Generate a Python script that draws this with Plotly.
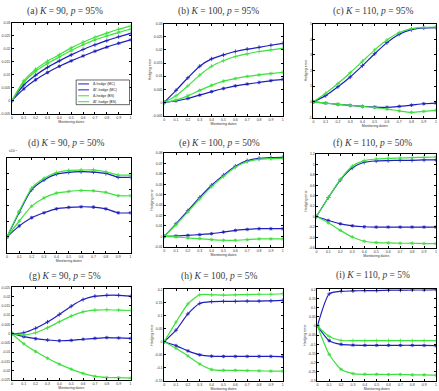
import plotly.graph_objects as go

W, H = 439, 391

# ---------------- data ----------------
x_dates = [0, 0.1, 0.2, 0.3, 0.4, 0.5, 0.6, 0.7, 0.8, 0.9, 1.0]
x_ticks = [0, 0.1, 0.2, 0.3, 0.4, 0.5, 0.6, 0.7, 0.8, 0.9, 1.0]
x_ticktext = ["0", "0.1", "0.2", "0.3", "0.4", "0.5", "0.6", "0.7", "0.8", "0.9", "1"]

series_names = ["Δ-hedge (MC)", "ΔΓ-hedge (MC)", "Δ-hedge (BS)", "ΔΓ-hedge (BS)"]

# (a) K=90, p=95%
a_blue1 = [0, 0.0060, 0.0098, 0.0128, 0.0153, 0.0176, 0.0197, 0.0215, 0.0231, 0.0246, 0.0259]
a_blue2 = [0, 0.0045, 0.0080, 0.0108, 0.0132, 0.0153, 0.0172, 0.0190, 0.0206, 0.0221, 0.0234]
a_green1 = [0, 0.0076, 0.0121, 0.0152, 0.0177, 0.0203, 0.0225, 0.0244, 0.0260, 0.0275, 0.0287]
a_green2 = [0, 0.0070, 0.0113, 0.0143, 0.0168, 0.0193, 0.0215, 0.0234, 0.0249, 0.0263, 0.0275]
# (b) K=100, p=95%
b_blue1 = [0, 0.0046, 0.0094, 0.0138, 0.0166, 0.0181, 0.0194, 0.0203, 0.0210, 0.0218, 0.0225]
b_blue2 = [0, 0.0006, 0.0015, 0.0028, 0.0041, 0.0053, 0.0063, 0.0070, 0.0076, 0.0083, 0.0088]
b_green1 = [0, 0.0025, 0.0063, 0.0104, 0.0138, 0.0159, 0.0175, 0.0185, 0.0194, 0.0200, 0.0206]
b_green2 = [0, 0.0009, 0.0025, 0.0046, 0.0065, 0.0081, 0.0091, 0.0099, 0.0105, 0.0110, 0.0115]
# (c) K=110, p=95%
c_blue1 = [0, 0.40, 0.965, 1.59, 2.32, 3.08, 3.79, 4.33, 4.62, 4.73, 4.75]
c_blue2 = [0, -0.08, -0.16, -0.23, -0.29, -0.33, -0.35, -0.29, -0.21, -0.12, -0.08]
c_green1 = [0, 0.547, 1.174, 1.864, 2.596, 3.328, 3.955, 4.436, 4.686, 4.77, 4.79]
c_green2 = [0, -0.08, -0.14, -0.23, -0.29, -0.37, -0.46, -0.58, -0.67, -0.61, -0.54]
# (d) K=90, p=50%  (x10^-3)
d_blue1 = [0, 1.57, 2.99, 3.61, 3.98, 4.09, 4.13, 4.11, 4.02, 3.78, 3.78]
d_blue2 = [0, 0.70, 1.22, 1.53, 1.78, 1.87, 1.91, 1.89, 1.78, 1.53, 1.53]
d_green1 = [0, 1.64, 3.09, 3.71, 4.07, 4.21, 4.23, 4.25, 4.13, 3.92, 3.92]
d_green2 = [0, 1.01, 1.95, 2.47, 2.78, 2.88, 2.94, 2.92, 2.82, 2.61, 2.61]
# (e) K=100, p=50%
e_blue1 = [0, 0.0121, 0.0247, 0.0374, 0.0491, 0.0588, 0.0674, 0.0727, 0.0749, 0.0756, 0.0759]
e_blue2 = [0, 0.0004, 0.0010, 0.0017, 0.0026, 0.0042, 0.0058, 0.0067, 0.0074, 0.0074, 0.0074]
e_green1 = [0, 0.0112, 0.0235, 0.0361, 0.0478, 0.0576, 0.0664, 0.0718, 0.0740, 0.0746, 0.0749]
e_green2 = [0, -0.0005, -0.0015, -0.0021, -0.0031, -0.0037, -0.0037, -0.0031, -0.0024, -0.0024, -0.0024]
# (f) K=110, p=50%
f_blue1 = [0, 0.366, 0.701, 0.935, 1.042, 1.067, 1.074, 1.080, 1.080, 1.086, 1.086]
f_blue2 = [0, -0.076, -0.139, -0.177, -0.196, -0.202, -0.202, -0.202, -0.202, -0.202, -0.202]
f_green1 = [0, 0.366, 0.714, 0.966, 1.074, 1.105, 1.118, 1.124, 1.131, 1.137, 1.143]
f_green2 = [0, -0.120, -0.265, -0.392, -0.474, -0.499, -0.505, -0.512, -0.512, -0.518, -0.518]
# (g) K=90, p=5%
g_blue1 = [0, 0.0005, 0.0029, 0.0063, 0.0104, 0.0148, 0.0184, 0.0202, 0.0207, 0.0207, 0.0202]
g_blue2 = [0, -0.0016, -0.0027, -0.0034, -0.0038, -0.0036, -0.0030, -0.0025, -0.0021, -0.0023, -0.0025]
g_green1 = [0, -0.0007, 0.0005, 0.0032, 0.0064, 0.0095, 0.0118, 0.0127, 0.0129, 0.0127, 0.0125]
g_green2 = [0, -0.0054, -0.0096, -0.0132, -0.0164, -0.0191, -0.0214, -0.0230, -0.0236, -0.0237, -0.0239]
# (h) K=100, p=5%
h_blue1 = [0, 0.044, 0.106, 0.146, 0.153, 0.154, 0.154, 0.155, 0.155, 0.156, 0.158]
h_blue2 = [0, -0.015, -0.035, -0.050, -0.055, -0.056, -0.056, -0.056, -0.056, -0.056, -0.057]
h_green1 = [0, 0.075, 0.144, 0.179, 0.179, 0.178, 0.179, 0.180, 0.181, 0.181, 0.183]
h_green2 = [0, -0.025, -0.054, -0.085, -0.106, -0.109, -0.109, -0.110, -0.111, -0.112, -0.112]
# (i) K=110, p=5%
i_blue1 = [0, 0.175, 0.189, 0.191, 0.193, 0.193, 0.195, 0.195, 0.196, 0.196, 0.198]
i_blue2 = [0, -0.080, -0.100, -0.104, -0.105, -0.105, -0.105, -0.105, -0.105, -0.106, -0.107]
i_green1 = [0, -0.057, -0.079, -0.080, -0.080, -0.080, -0.080, -0.080, -0.080, -0.080, -0.080]
i_green2 = [0, -0.155, -0.236, -0.259, -0.263, -0.263, -0.264, -0.264, -0.266, -0.266, -0.268]

# y-axis ticks per panel
a_yticks = [-0.005, 0, 0.005, 0.01, 0.015, 0.02, 0.025, 0.03]
a_ylabels = ["-0.005", "0", "0.005", "0.01", "0.015", "0.02", "0.025", "0.03"]
b_yticks = [-0.005, 0, 0.005, 0.01, 0.015, 0.02, 0.025, 0.03]
b_ylabels = ["-0.005", "0", "0.005", "0.01", "0.015", "0.02", "0.025", "0.03"]
c_yticks = [-1, 0, 1, 2, 3, 4, 5]
c_ylabels = ["-1", "0", "1", "2", "3", "4", "5"]
d_yticks = [-1, 0, 1, 2, 3, 4, 5]
d_ylabels = ["-1", "0", "1", "2", "3", "4", "5"]
e_yticks = [-0.01, 0, 0.01, 0.02, 0.03, 0.04, 0.05, 0.06, 0.07, 0.08]
e_ylabels = ["-0.01", "0", "0.01", "0.02", "0.03", "0.04", "0.05", "0.06", "0.07", "0.08"]
f_yticks = [-0.6, -0.4, -0.2, 0, 0.2, 0.4, 0.6, 0.8, 1.0, 1.2]
f_ylabels = ["-0.6", "-0.4", "-0.2", "0", "0.2", "0.4", "0.6", "0.8", "1", "1.2"]
g_yticks = [-0.025, -0.02, -0.015, -0.01, -0.005, 0, 0.005, 0.01, 0.015, 0.02, 0.025]
g_ylabels = ["-0.025", "-0.02", "-0.015", "-0.01", "-0.005", "0", "0.005", "0.01", "0.015", "0.02", "0.025"]
h_yticks = [-0.15, -0.1, -0.05, 0, 0.05, 0.1, 0.15, 0.2]
h_ylabels = ["-0.15", "-0.1", "-0.05", "0", "0.05", "0.1", "0.15", "0.2"]
i_yticks = [-0.3, -0.25, -0.2, -0.15, -0.1, -0.05, 0, 0.05, 0.1, 0.15, 0.2]
i_ylabels = ["-0.3", "-0.25", "-0.2", "-0.15", "-0.1", "-0.05", "0", "0.05", "0.1", "0.15", "0.2"]

titles = [
    "(a) <i>K</i> = 90, <i>p</i> = 95%", "(b) <i>K</i> = 100, <i>p</i> = 95%", "(c) <i>K</i> = 110, <i>p</i> = 95%",
    "(d) <i>K</i> = 90, <i>p</i> = 50%", "(e) <i>K</i> = 100, <i>p</i> = 50%", "(f) <i>K</i> = 110, <i>p</i> = 50%",
    "(g) <i>K</i> = 90, <i>p</i> = 5%", "(h) <i>K</i> = 100, <i>p</i> = 5%", "(i) <i>K</i> = 110, <i>p</i> = 5%",
]

panels = [
    (a_blue1, a_blue2, a_green1, a_green2, a_yticks, a_ylabels),
    (b_blue1, b_blue2, b_green1, b_green2, b_yticks, b_ylabels),
    (c_blue1, c_blue2, c_green1, c_green2, c_yticks, c_ylabels),
    (d_blue1, d_blue2, d_green1, d_green2, d_yticks, d_ylabels),
    (e_blue1, e_blue2, e_green1, e_green2, e_yticks, e_ylabels),
    (f_blue1, f_blue2, f_green1, f_green2, f_yticks, f_ylabels),
    (g_blue1, g_blue2, g_green1, g_green2, g_yticks, g_ylabels),
    (h_blue1, h_blue2, h_green1, h_green2, h_yticks, h_ylabels),
    (i_blue1, i_blue2, i_green1, i_green2, i_yticks, i_ylabels),
]

# ---------------- layout geometry (pixels) ----------------
boxes = [  # x0, x1, y0(top), y1(bottom)
    (8, 128, 21, 113), (162, 282, 22, 115), (313, 437, 22, 117),
    (3, 128, 158, 254), (162, 282, 153, 248), (316, 437, 154, 249),
    (8, 128, 289, 383), (162, 282, 291, 384), (317, 437, 291, 384),
]
title_pos = [
    (62, 10), (217, 10), (373, 10),
    (63, 143), (218, 143), (373, 143),
    (62, 278), (218, 278), (373, 277),
]

BLUE = "rgb(30,30,190)"
GREEN = "rgb(60,225,60)"
colors = [BLUE, BLUE, GREEN, GREEN]
symbols = ["cross-thin-open", "asterisk-open", "cross-thin-open", "asterisk-open"]


def px(x):
    return x / W


def py(y):
    return 1 - y / H


fig = go.Figure()
layout = dict(
    width=W, height=H, margin=dict(l=0, r=0, t=0, b=0),
    paper_bgcolor="white", plot_bgcolor="white", showlegend=False,
    font=dict(family="Liberation Serif", color="black"),
)
annotations = []
shapes = []

tickfont = dict(size=3.5, color="#333", family="Liberation Sans")
titlefont = dict(size=3.5, color="#333", family="Liberation Sans")

for k, (p, box, tp, ttl) in enumerate(zip(panels, boxes, title_pos, titles), start=1):
    b1, b2, g1, g2, yt, yl = p
    xa = "xaxis" if k == 1 else f"xaxis{k}"
    ya = "yaxis" if k == 1 else f"yaxis{k}"
    xr = "x" if k == 1 else f"x{k}"
    yr = "y" if k == 1 else f"y{k}"
    for s, ys in enumerate([b1, b2, g1, g2]):
        fig.add_trace(go.Scatter(
            x=x_dates, y=ys, mode="lines+markers", name=series_names[s],
            line=dict(color=colors[s], width=1.2, shape="spline", smoothing=0.6),
            marker=dict(symbol=symbols[s], size=3, color=colors[s], line=dict(width=0.8, color=colors[s])),
            xaxis=xr, yaxis=yr,
        ))
    x0, x1, y0, y1 = box
    layout[xa] = dict(
        domain=[px(x0), px(x1)], anchor=yr, range=[0, 1],
        tickvals=x_ticks, ticktext=x_ticktext, ticks="inside", ticklen=2, tickwidth=0.5,
        tickcolor="black", showline=True, linecolor="black", linewidth=0.8, mirror="allticks",
        showgrid=False, zeroline=False, tickfont=tickfont,
        title=dict(text="Monitoring dates", font=titlefont, standoff=1),
    )
    yaxis = dict(
        domain=[py(y1), py(y0)], anchor=xr, range=[yt[0], yt[-1]],
        tickvals=yt, ticktext=yl, ticks="inside", ticklen=2, tickwidth=0.5,
        tickcolor="black", showline=True, linecolor="black", linewidth=0.8, mirror="allticks",
        showgrid=False, zeroline=False, tickfont=tickfont, showticklabels=(k != 4),
    )
    if k in (2, 3, 5, 6, 8, 9):
        yaxis["title"] = dict(text="Hedging error", font=titlefont, standoff=1)
    layout[ya] = yaxis
    annotations.append(dict(
        x=px(tp[0]), y=py(tp[1]), xref="paper", yref="paper", text=ttl, showarrow=False,
        xanchor="center", yanchor="middle", font=dict(size=9.5, family="Liberation Serif", color="#3a3a3a"),
    ))

# exponent label for panel (d)
annotations.append(dict(x=px(3), y=py(155), xref="paper", yref="paper", text="x10<sup>-3</sup>",
                        showarrow=False, xanchor="left", yanchor="bottom",
                        font=dict(size=3.5, color="#333", family="Liberation Sans")))

# manual legend inside panel (a)
lx0, lx1, ly0, ly1 = 73, 127, 79, 104
shapes.append(dict(type="rect", xref="paper", yref="paper", x0=px(lx0), x1=px(lx1), y0=py(ly1), y1=py(ly0),
                   line=dict(color="black", width=0.6), fillcolor="white"))
row_y = [83, 89, 95, 101]
for s in range(4):
    yy = py(row_y[s])
    shapes.append(dict(type="line", xref="paper", yref="paper", x0=px(75), x1=px(86), y0=yy, y1=yy,
                       line=dict(color=colors[s], width=1)))
    annotations.append(dict(x=px(88), y=yy, xref="paper", yref="paper", text=series_names[s],
                            showarrow=False, xanchor="left", yanchor="middle",
                            font=dict(size=3.5, color="#222", family="Liberation Sans")))

layout["annotations"] = annotations
layout["shapes"] = shapes
fig.update_layout(**layout)
fig.write_html("out.html")
